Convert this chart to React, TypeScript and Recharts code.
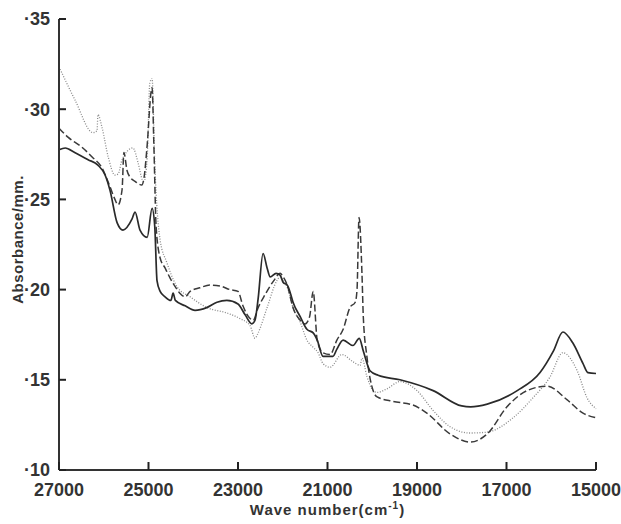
import React from "react";
import { LineChart, Line, XAxis, YAxis } from "recharts";

// wave numbers (cm-1) and absorbance/mm, one pair of arrays per curve
const solidWave = [
	27000, 26860, 26650, 26350, 26130, 25970, 25860, 25700, 25570, 25370, 25300,
	25190, 25030, 24920, 24860, 24810, 24740, 24630, 24500, 24450, 24400, 24180,
	23960, 23700, 23470, 23250, 23000, 22840, 22690, 22620, 22550, 22440, 22350,
	22280, 22150, 22060, 21990, 21900, 21830, 21770, 21610, 21460, 21320, 21230,
	21100, 20880, 20790, 20650, 20430, 20290, 20200, 20050, 19870, 19380, 18640,
	18000, 17800, 17430, 16760, 16250, 15950, 15740, 15520, 15290, 15180, 15000,
];
const solidAbs = [
	0.2775, 0.2785, 0.276, 0.272, 0.269, 0.2635, 0.255, 0.237, 0.233, 0.239, 0.243,
	0.233, 0.229, 0.245, 0.235, 0.205, 0.199, 0.196, 0.194, 0.198, 0.194, 0.191,
	0.1885, 0.19, 0.193, 0.194, 0.192, 0.186, 0.181, 0.183, 0.195, 0.22, 0.212,
	0.207, 0.209, 0.208, 0.204, 0.2025, 0.198, 0.193, 0.185, 0.178, 0.176, 0.172,
	0.163, 0.163, 0.167, 0.172, 0.169, 0.173, 0.166, 0.155, 0.1525, 0.15, 0.144,
	0.1355, 0.135, 0.1365, 0.144, 0.154, 0.166, 0.1765, 0.1705, 0.159, 0.154, 0.1535,
];

const dottedWave = [
	27000, 26640, 26240, 26150, 26130, 26040, 25900, 25750, 25680, 25590, 25350,
	25230, 25140, 25100, 25030, 24970, 24920, 24860, 24740, 24590, 24360, 24070,
	23690, 23245, 22960, 22730, 22620, 22550, 22350, 22130, 22060, 21990, 21880,
	21770, 21610, 21460, 21320, 21210, 21100, 20940, 20680, 20430, 20270, 20230,
	20120, 19980, 19890, 19670, 19380, 19000, 18640, 18260, 17810, 17430, 16850,
	16410, 16030, 15740, 15420, 15200, 15000,
];
const dottedAbs = [
	0.3235, 0.305, 0.287, 0.288, 0.297, 0.29, 0.2735, 0.2635, 0.264, 0.272, 0.2785,
	0.27, 0.261, 0.26, 0.273, 0.3145, 0.317, 0.27, 0.2275, 0.215, 0.2015, 0.196,
	0.19, 0.187, 0.184, 0.18, 0.173, 0.176, 0.19, 0.205, 0.207, 0.205, 0.2,
	0.19, 0.182, 0.172, 0.168, 0.165, 0.159, 0.157, 0.164, 0.16, 0.158, 0.162,
	0.152, 0.144, 0.143, 0.145, 0.149, 0.144, 0.133, 0.124, 0.1205, 0.121, 0.129,
	0.14, 0.1515, 0.165, 0.155, 0.14, 0.134,
];

const dashedWave = [
	27000, 26800, 26490, 26260, 26040, 25860, 25750, 25680, 25590, 25550, 25480,
	25400, 25300, 25150, 25100, 25030, 24940, 24920, 24880, 24830, 24740, 24630,
	24520, 24400, 24300, 24180, 24070, 23850, 23630, 23400, 23180, 23000, 22890,
	22730, 22660, 22550, 22400, 22200, 22060, 21990, 21900, 21770, 21610, 21500,
	21400, 21320, 21230, 21100, 20940, 20790, 20650, 20500, 20380, 20340, 20295,
	20230, 20200, 20120, 19980, 19890, 19530, 19090, 18780, 18260, 17810, 17430,
	16990, 16540, 16090, 15650, 15290, 15000,
];
const dashedAbs = [
	0.2895, 0.2845, 0.279, 0.2735, 0.2675, 0.257, 0.25, 0.247, 0.2555, 0.276, 0.266,
	0.262, 0.26, 0.258, 0.262, 0.28, 0.31, 0.312, 0.28, 0.235, 0.2175, 0.212,
	0.2065, 0.2015, 0.198, 0.196, 0.199, 0.201, 0.2025, 0.202, 0.2, 0.199, 0.191,
	0.184, 0.183, 0.19, 0.197, 0.205, 0.209, 0.207, 0.2025, 0.19, 0.183, 0.181,
	0.185, 0.199, 0.172, 0.165, 0.164, 0.172, 0.178, 0.19, 0.193, 0.2, 0.24,
	0.209, 0.185, 0.163, 0.144, 0.1405, 0.138, 0.136, 0.1315, 0.12, 0.1155, 0.12,
	0.135, 0.144, 0.1465, 0.139, 0.1315, 0.129,
];

const waveTicks = [27000, 25000, 23000, 21000, 19000, 17000, 15000];
const absTicks = [0.1, 0.15, 0.2, 0.25, 0.3, 0.35];

const toPoints = (wave: number[], abs: number[]) =>
	wave.map((w, i) => ({ w, v: abs[i] }));

const solidPoints = toPoints(solidWave, solidAbs);
const dottedPoints = toPoints(dottedWave, dottedAbs);
const dashedPoints = toPoints(dashedWave, dashedAbs);

const INK = "#333";
const FONT = "'Liberation Sans', Arial, sans-serif";

// tick marks point into the frame; each custom tick draws its own mark and label
// (tickSize 0, so x/y arrive at axis position minus tickMargin)
const XTick = (props: any) => {
	const { x, y, payload } = props;
	const axisY = y - 10;
	return (
		<g>
			<path d={`M${x},${axisY}V${axisY - 8}`} stroke="#222" strokeWidth={2} fill="none" />
			<text x={x} y={axisY + 26} textAnchor="middle" fill={INK} fontSize={18} fontWeight="bold" fontFamily={FONT}>
				{payload.value}
			</text>
		</g>
	);
};

const YTick = (props: any) => {
	const { x, y, payload } = props;
	const axisX = x + 9;
	return (
		<g>
			<path d={`M${axisX},${y}H${axisX + 7}`} stroke="#222" strokeWidth={2} fill="none" />
			<text x={x} y={y} dy="0.36em" textAnchor="end" fill={INK} fontSize={18} fontWeight="bold" fontFamily={FONT}>
				{"·" + Math.round(payload.value * 100)}
			</text>
		</g>
	);
};

const YLabel = (props: any) => {
	const { viewBox } = props;
	const cx = viewBox.x + 9;
	const cy = viewBox.y + viewBox.height / 2 - 5;
	return (
		<text x={cx} y={cy} transform={`rotate(-90 ${cx} ${cy})`} textAnchor="middle" dy="0.36em" fill={INK} fontSize={15} fontWeight="bold" fontFamily={FONT} letterSpacing={0.5}>
			Absorbance/mm.
		</text>
	);
};

const XLabel = (props: any) => {
	const { viewBox } = props;
	const cx = viewBox.x + viewBox.width / 2;
	return (
		<text x={cx} y={viewBox.y + 45} textAnchor="middle" fill={INK} fontSize={15} fontWeight="bold" fontFamily={FONT} letterSpacing={1}>
			Wave number(cm
			<tspan dy={-6} fontSize={10}>-1</tspan>
			<tspan dy={6}>)</tspan>
		</text>
	);
};

export default function App() {
	return (
		<div style={{ position: "absolute", left: 0, top: 0, width: 621, height: 524, background: "#fff" }}>
			<LineChart width={621} height={524} margin={{ top: 19, right: 25, bottom: 14, left: 9 }}>
				<Line data={dottedPoints} dataKey="v" type="monotoneX" stroke="#8a8a8a" strokeWidth={1.3} strokeDasharray="1 1.6" dot={false} isAnimationActive={false} />
				<Line data={dashedPoints} dataKey="v" type="monotoneX" stroke="#3a3a3a" strokeWidth={1.5} strokeDasharray="7 3" dot={false} isAnimationActive={false} />
				<Line data={solidPoints} dataKey="v" type="monotoneX" stroke="#2a2a2a" strokeWidth={1.7} dot={false} isAnimationActive={false} />
				<XAxis
					dataKey="w"
					type="number"
					domain={[15000, 27000]}
					reversed
					ticks={waveTicks}
					height={40}
					stroke={INK}
					strokeWidth={2}
					tickSize={0}
					tickMargin={10}
					tickLine={false}
					tick={<XTick />}
					label={<XLabel />}
				/>
				<YAxis
					type="number"
					domain={[0.1, 0.35]}
					ticks={absTicks}
					width={50}
					stroke={INK}
					strokeWidth={2}
					tickSize={0}
					tickMargin={9}
					tickLine={false}
					tick={<YTick />}
					label={<YLabel />}
				/>
			</LineChart>
		</div>
	);
}
